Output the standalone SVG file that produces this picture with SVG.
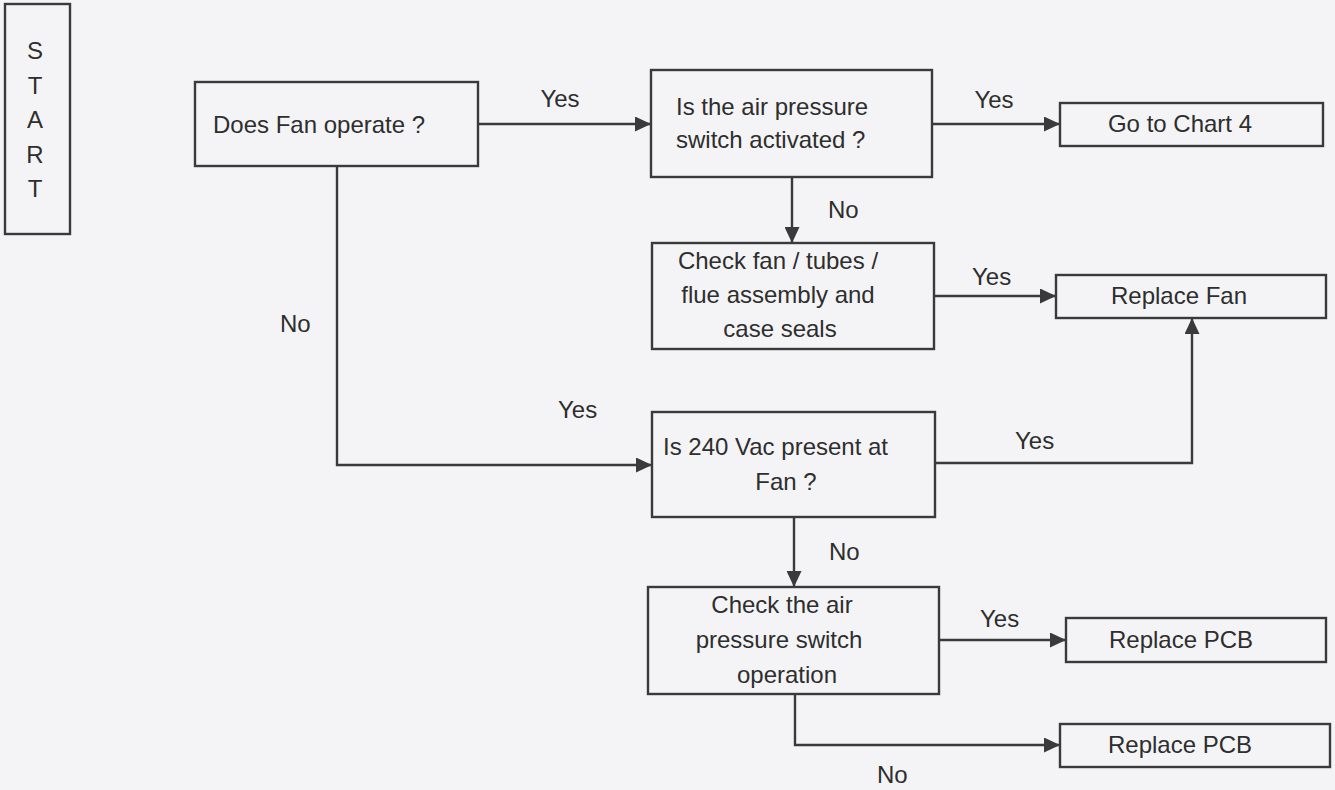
<svg xmlns="http://www.w3.org/2000/svg" width="1335" height="790" viewBox="0 0 1335 790">
<style>
.box{fill:none;stroke:#3a3a3a;stroke-width:2.4}
.con{fill:none;stroke:#3a3a3a;stroke-width:2.4}
text{font-family:"Liberation Sans",Arial,sans-serif;font-size:24px;fill:#2e2e2e}
.c{text-anchor:middle}
</style>
<defs>
<marker id="arr" markerUnits="userSpaceOnUse" markerWidth="17" markerHeight="15" refX="16" refY="7.5" orient="auto">
<path d="M0,0 L16,7.5 L0,15 z" fill="#3a3a3a"/>
</marker>
</defs>
<rect width="1335" height="790" fill="#f4f4f6"/>
<g id="connectors">
<line class="con" x1="478" y1="124" x2="651" y2="124" marker-end="url(#arr)"/>
<line class="con" x1="932" y1="124" x2="1060" y2="124" marker-end="url(#arr)"/>
<line class="con" x1="792" y1="177" x2="792" y2="243" marker-end="url(#arr)"/>
<line class="con" x1="934" y1="296" x2="1056" y2="296" marker-end="url(#arr)"/>
<path class="con" d="M337,166 V465 H652" marker-end="url(#arr)"/>
<path class="con" d="M935,463 H1192 V318" marker-end="url(#arr)"/>
<line class="con" x1="794" y1="517" x2="794" y2="587" marker-end="url(#arr)"/>
<line class="con" x1="939" y1="640" x2="1066" y2="640" marker-end="url(#arr)"/>
<path class="con" d="M795,694 V745 H1060" marker-end="url(#arr)"/>
<text class="c" x="560" y="107">Yes</text>
<text class="c" x="994" y="108">Yes</text>
<text x="828" y="218">No</text>
<text x="972" y="285">Yes</text>
<text x="280" y="332">No</text>
<text x="558" y="418">Yes</text>
<text x="1015" y="449">Yes</text>
<text x="829" y="560">No</text>
<text x="980" y="627">Yes</text>
<text x="877" y="783">No</text>
</g>
<g id="start">
<rect class="box" x="5" y="4" width="65" height="230"/>
<text class="c" x="35" y="59">S</text>
<text class="c" x="35" y="94">T</text>
<text class="c" x="35" y="128">A</text>
<text class="c" x="35" y="163">R</text>
<text class="c" x="35" y="197">T</text>
</g>
<g id="fan-operate">
<rect class="box" x="195" y="82" width="283" height="84"/>
<text x="213" y="133">Does Fan operate ?</text>
</g>
<g id="air-pressure">
<rect class="box" x="651" y="70" width="281" height="107"/>
<text x="676" y="115">Is the air pressure</text>
<text x="676" y="148">switch activated ?</text>
</g>
<g id="chart4">
<rect class="box" x="1060" y="103" width="263" height="43"/>
<text class="c" x="1180" y="132">Go to Chart 4</text>
</g>
<g id="check-fan">
<rect class="box" x="652" y="243" width="282" height="106"/>
<text class="c" x="778" y="269">Check fan / tubes /</text>
<text class="c" x="778" y="303">flue assembly and</text>
<text class="c" x="780" y="337">case seals</text>
</g>
<g id="replace-fan">
<rect class="box" x="1056" y="275" width="270" height="43"/>
<text class="c" x="1179" y="304">Replace Fan</text>
</g>
<g id="vac-present">
<rect class="box" x="652" y="412" width="283" height="105"/>
<text x="663" y="455">Is 240 Vac present at</text>
<text class="c" x="786" y="490">Fan ?</text>
</g>
<g id="check-switch">
<rect class="box" x="648" y="587" width="291" height="107"/>
<text class="c" x="782" y="613">Check the air</text>
<text class="c" x="779" y="648">pressure switch</text>
<text class="c" x="787" y="683">operation</text>
</g>
<g id="replace-pcb-1">
<rect class="box" x="1066" y="618" width="260" height="44"/>
<text class="c" x="1181" y="648">Replace PCB</text>
</g>
<g id="replace-pcb-2">
<rect class="box" x="1060" y="724" width="270" height="43"/>
<text class="c" x="1180" y="753">Replace PCB</text>
</g>
</svg>
